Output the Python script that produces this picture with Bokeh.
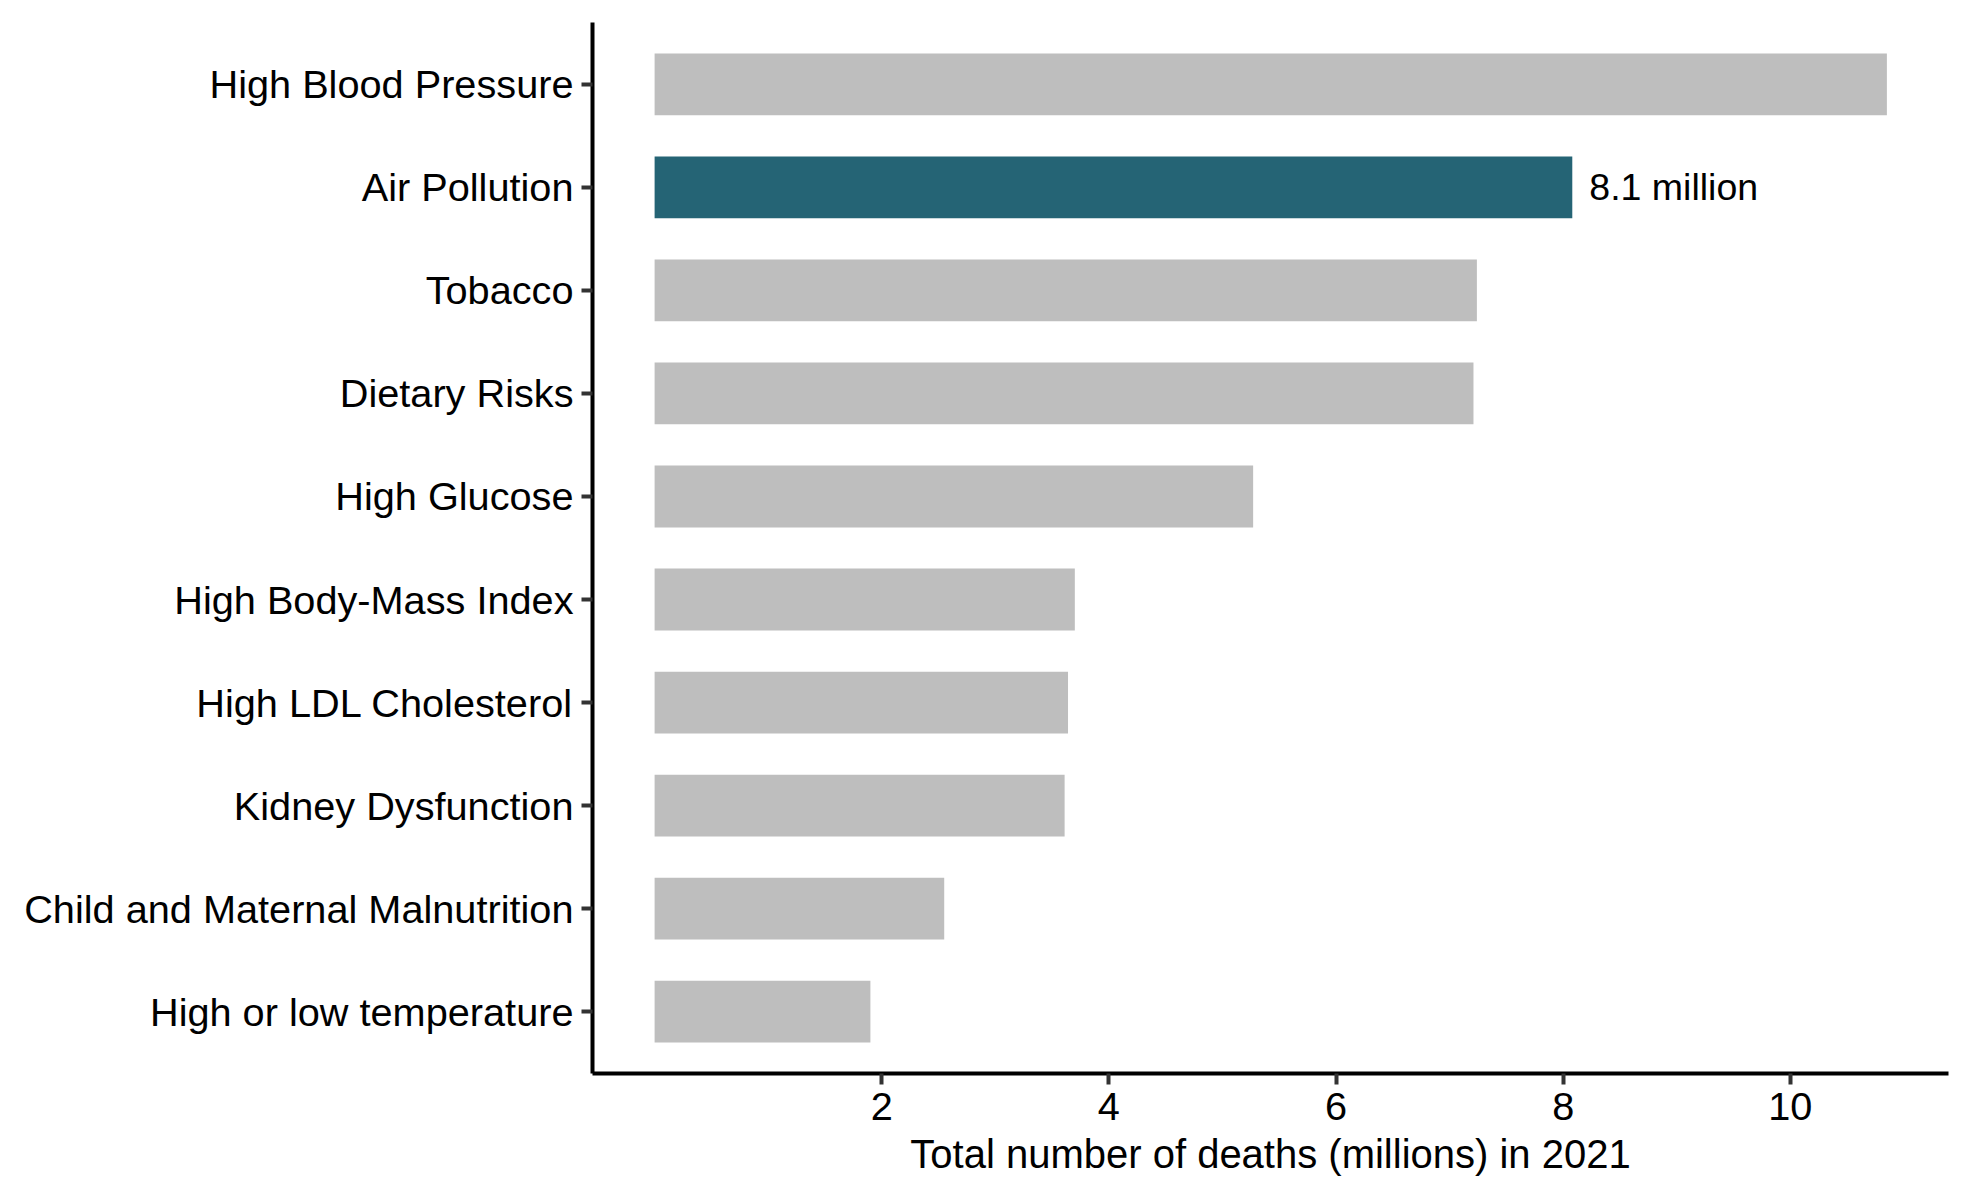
from bokeh.plotting import figure
from bokeh.models import ColumnDataSource, FactorRange, Range1d, FixedTicker
from bokeh.core.properties import value
from bokeh.embed import file_html
from bokeh.resources import INLINE

categories = [
    "High Blood Pressure",
    "Air Pollution",
    "Tobacco",
    "Dietary Risks",
    "High Glucose",
    "High Body-Mass Index",
    "High LDL Cholesterol",
    "Kidney Dysfunction",
    "Child and Maternal Malnutrition",
    "High or low temperature",
]
deaths_millions = [10.85, 8.08, 7.24, 7.21, 5.27, 3.70, 3.64, 3.61, 2.55, 1.90]
highlight = "Air Pollution"
highlight_label = "8.1 million"
x_ticks = [2, 4, 6, 8, 10]

GRAY = "#BEBEBE"
TEAL = "#256475"
FONT = "Liberation Sans"

colors = [TEAL if c == highlight else GRAY for c in categories]
source = ColumnDataSource(dict(cat=categories, val=deaths_millions, color=colors))

y_range = FactorRange(factors=list(reversed(categories)), range_padding=0.1,
                      range_padding_units="absolute")
xmax = max(deaths_millions) * 1.05
x_range = Range1d(-0.048 * xmax, xmax)

p = figure(y_range=y_range, x_range=x_range, frame_width=1356, frame_height=1051,
           min_border_left=592, min_border_top=22, min_border_right=10,
           min_border_bottom=115, output_backend="svg", toolbar_location=None,
           background_fill_color="white", border_fill_color="white")
p.outline_line_color = None
p.xgrid.visible = False
p.ygrid.visible = False

p.hbar(y="cat", left=0, right="val", height=0.6, fill_color="color",
       line_color=None, source=source)

hi_idx = categories.index(highlight)
p.text(x=[deaths_millions[hi_idx]], y=[highlight], text=[highlight_label],
       x_offset=17, text_baseline="middle", text_align="left",
       text_font=value(FONT), text_font_size="37.5px", text_color="black")

for ax in (p.xaxis[0], p.yaxis[0]):
    ax.axis_line_color = "black"
    ax.axis_line_width = 4
    ax.major_tick_line_color = "#333333"
    ax.major_tick_line_width = 4
    ax.major_tick_in = 0
    ax.major_tick_out = 11
    ax.minor_tick_line_color = None
    ax.major_label_text_font = FONT
    ax.major_label_text_font_size = "39.7px"
    ax.major_label_text_color = "black"

p.xaxis.ticker = FixedTicker(ticks=x_ticks)
p.xaxis.major_label_standoff = 8
p.xaxis.axis_label = "Total number of deaths (millions) in 2021"
p.xaxis.axis_label_text_font = FONT
p.xaxis.axis_label_text_font_size = "40px"
p.xaxis.axis_label_text_font_style = "normal"
p.xaxis.axis_label_text_color = "black"
p.xaxis.axis_label_standoff = 9
p.yaxis.major_label_standoff = 8

open("out.html", "w").write(file_html(p, INLINE))
